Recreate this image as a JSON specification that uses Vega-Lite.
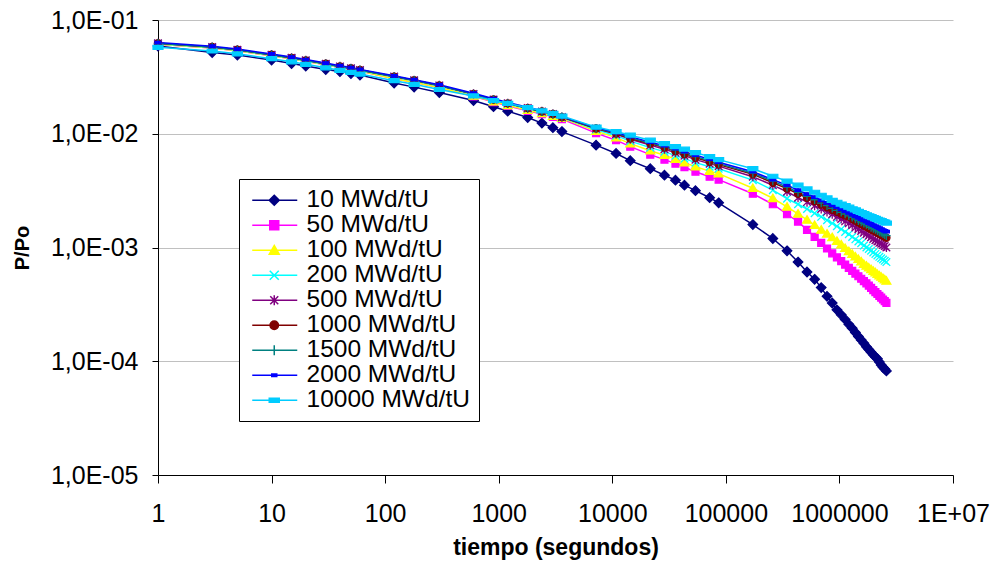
{
  "$schema": "https://vega.github.io/schema/vega-lite/v6.json",
  "width": 795,
  "height": 455,
  "autosize": {"type": "none"},
  "padding": {"left": 158, "top": 20, "right": 42, "bottom": 90},
  "background": "white",
  "config": {
    "font": "Liberation Sans",
    "view": {"stroke": null},
    "axis": {"labelColor": "#000", "titleColor": "#000", "domainColor": "#000", "tickColor": "#000", "labelFont": "Liberation Sans", "titleFont": "Liberation Sans"}
  },
  "data": {
    "values": [
      {"t": 1, "10 MWd/tU": 0.0590, "50 MWd/tU": 0.0612, "100 MWd/tU": 0.0612, "200 MWd/tU": 0.0618, "500 MWd/tU": 0.0624, "1000 MWd/tU": 0.0624, "1500 MWd/tU": 0.0624, "2000 MWd/tU": 0.0633, "10000 MWd/tU": 0.0575},
      {"t": 3, "10 MWd/tU": 0.0518, "50 MWd/tU": 0.0567, "100 MWd/tU": 0.0567, "200 MWd/tU": 0.0573, "500 MWd/tU": 0.0579, "1000 MWd/tU": 0.0579, "1500 MWd/tU": 0.0579, "2000 MWd/tU": 0.0588, "10000 MWd/tU": 0.0534},
      {"t": 5, "10 MWd/tU": 0.0492, "50 MWd/tU": 0.0536, "100 MWd/tU": 0.0536, "200 MWd/tU": 0.0542, "500 MWd/tU": 0.0547, "1000 MWd/tU": 0.0547, "1500 MWd/tU": 0.0547, "2000 MWd/tU": 0.0555, "10000 MWd/tU": 0.0504},
      {"t": 10, "10 MWd/tU": 0.0445, "50 MWd/tU": 0.0486, "100 MWd/tU": 0.0486, "200 MWd/tU": 0.0491, "500 MWd/tU": 0.0496, "1000 MWd/tU": 0.0496, "1500 MWd/tU": 0.0496, "2000 MWd/tU": 0.0503, "10000 MWd/tU": 0.0457},
      {"t": 15, "10 MWd/tU": 0.0414, "50 MWd/tU": 0.0456, "100 MWd/tU": 0.0456, "200 MWd/tU": 0.0460, "500 MWd/tU": 0.0465, "1000 MWd/tU": 0.0465, "1500 MWd/tU": 0.0465, "2000 MWd/tU": 0.0472, "10000 MWd/tU": 0.0429},
      {"t": 20, "10 MWd/tU": 0.0394, "50 MWd/tU": 0.0433, "100 MWd/tU": 0.0433, "200 MWd/tU": 0.0438, "500 MWd/tU": 0.0442, "1000 MWd/tU": 0.0442, "1500 MWd/tU": 0.0442, "2000 MWd/tU": 0.0449, "10000 MWd/tU": 0.0408},
      {"t": 30, "10 MWd/tU": 0.0367, "50 MWd/tU": 0.0404, "100 MWd/tU": 0.0404, "200 MWd/tU": 0.0408, "500 MWd/tU": 0.0412, "1000 MWd/tU": 0.0412, "1500 MWd/tU": 0.0412, "2000 MWd/tU": 0.0418, "10000 MWd/tU": 0.0380},
      {"t": 40, "10 MWd/tU": 0.0352, "50 MWd/tU": 0.0383, "100 MWd/tU": 0.0383, "200 MWd/tU": 0.0387, "500 MWd/tU": 0.0391, "1000 MWd/tU": 0.0391, "1500 MWd/tU": 0.0391, "2000 MWd/tU": 0.0397, "10000 MWd/tU": 0.0361},
      {"t": 50, "10 MWd/tU": 0.0338, "50 MWd/tU": 0.0368, "100 MWd/tU": 0.0368, "200 MWd/tU": 0.0372, "500 MWd/tU": 0.0376, "1000 MWd/tU": 0.0376, "1500 MWd/tU": 0.0376, "2000 MWd/tU": 0.0382, "10000 MWd/tU": 0.0347},
      {"t": 60, "10 MWd/tU": 0.0328, "50 MWd/tU": 0.0356, "100 MWd/tU": 0.0356, "200 MWd/tU": 0.0359, "500 MWd/tU": 0.0363, "1000 MWd/tU": 0.0363, "1500 MWd/tU": 0.0363, "2000 MWd/tU": 0.0368, "10000 MWd/tU": 0.0335},
      {"t": 120, "10 MWd/tU": 0.0279, "50 MWd/tU": 0.0305, "100 MWd/tU": 0.0305, "200 MWd/tU": 0.0315, "500 MWd/tU": 0.0318, "1000 MWd/tU": 0.0318, "1500 MWd/tU": 0.0318, "2000 MWd/tU": 0.0323, "10000 MWd/tU": 0.0293},
      {"t": 180, "10 MWd/tU": 0.0257, "50 MWd/tU": 0.0283, "100 MWd/tU": 0.0283, "200 MWd/tU": 0.0292, "500 MWd/tU": 0.0295, "1000 MWd/tU": 0.0295, "1500 MWd/tU": 0.0295, "2000 MWd/tU": 0.0299, "10000 MWd/tU": 0.0272},
      {"t": 300, "10 MWd/tU": 0.0230, "50 MWd/tU": 0.0255, "100 MWd/tU": 0.0255, "200 MWd/tU": 0.0263, "500 MWd/tU": 0.0266, "1000 MWd/tU": 0.0266, "1500 MWd/tU": 0.0266, "2000 MWd/tU": 0.0270, "10000 MWd/tU": 0.0245},
      {"t": 600, "10 MWd/tU": 0.0196, "50 MWd/tU": 0.0213, "100 MWd/tU": 0.0215, "200 MWd/tU": 0.0222, "500 MWd/tU": 0.0224, "1000 MWd/tU": 0.0224, "1500 MWd/tU": 0.0224, "2000 MWd/tU": 0.0227, "10000 MWd/tU": 0.0215},
      {"t": 900, "10 MWd/tU": 0.0173, "50 MWd/tU": 0.0190, "100 MWd/tU": 0.0192, "200 MWd/tU": 0.0198, "500 MWd/tU": 0.0200, "1000 MWd/tU": 0.0200, "1500 MWd/tU": 0.0200, "2000 MWd/tU": 0.0203, "10000 MWd/tU": 0.0196},
      {"t": 1200, "10 MWd/tU": 0.0158, "50 MWd/tU": 0.0176, "100 MWd/tU": 0.0178, "200 MWd/tU": 0.0183, "500 MWd/tU": 0.0185, "1000 MWd/tU": 0.0185, "1500 MWd/tU": 0.0185, "2000 MWd/tU": 0.0188, "10000 MWd/tU": 0.0185},
      {"t": 1800, "10 MWd/tU": 0.0139, "50 MWd/tU": 0.0159, "100 MWd/tU": 0.0161, "200 MWd/tU": 0.0166, "500 MWd/tU": 0.0168, "1000 MWd/tU": 0.0168, "1500 MWd/tU": 0.0168, "2000 MWd/tU": 0.0171, "10000 MWd/tU": 0.0170},
      {"t": 2400, "10 MWd/tU": 0.0124, "50 MWd/tU": 0.0149, "100 MWd/tU": 0.0151, "200 MWd/tU": 0.0155, "500 MWd/tU": 0.0157, "1000 MWd/tU": 0.0157, "1500 MWd/tU": 0.0157, "2000 MWd/tU": 0.0159, "10000 MWd/tU": 0.0159},
      {"t": 3000, "10 MWd/tU": 0.0113, "50 MWd/tU": 0.0141, "100 MWd/tU": 0.0143, "200 MWd/tU": 0.0148, "500 MWd/tU": 0.0149, "1000 MWd/tU": 0.0149, "1500 MWd/tU": 0.0149, "2000 MWd/tU": 0.0151, "10000 MWd/tU": 0.0151},
      {"t": 3600, "10 MWd/tU": 0.01045, "50 MWd/tU": 0.01346, "100 MWd/tU": 0.01373, "200 MWd/tU": 0.01387, "500 MWd/tU": 0.0140, "1000 MWd/tU": 0.0140, "1500 MWd/tU": 0.01415, "2000 MWd/tU": 0.01415, "10000 MWd/tU": 0.0143},
      {"t": 7200, "10 MWd/tU": 0.00794, "50 MWd/tU": 0.01013, "100 MWd/tU": 0.01055, "200 MWd/tU": 0.01088, "500 MWd/tU": 0.0111, "1000 MWd/tU": 0.01114, "1500 MWd/tU": 0.01121, "2000 MWd/tU": 0.01132, "10000 MWd/tU": 0.01144},
      {"t": 10800, "10 MWd/tU": 0.00671, "50 MWd/tU": 0.00878, "100 MWd/tU": 0.00924, "200 MWd/tU": 0.00962, "500 MWd/tU": 0.00992, "1000 MWd/tU": 0.01006, "1500 MWd/tU": 0.01013, "2000 MWd/tU": 0.01024, "10000 MWd/tU": 0.01045},
      {"t": 14400, "10 MWd/tU": 0.0058, "50 MWd/tU": 0.0077, "100 MWd/tU": 0.00818, "200 MWd/tU": 0.00861, "500 MWd/tU": 0.00896, "1000 MWd/tU": 0.00909, "1500 MWd/tU": 0.00924, "2000 MWd/tU": 0.00943, "10000 MWd/tU": 0.00972},
      {"t": 21600, "10 MWd/tU": 0.00493, "50 MWd/tU": 0.00655, "100 MWd/tU": 0.0071, "200 MWd/tU": 0.00755, "500 MWd/tU": 0.00794, "1000 MWd/tU": 0.00818, "1500 MWd/tU": 0.00827, "2000 MWd/tU": 0.00844, "10000 MWd/tU": 0.00878},
      {"t": 28800, "10 MWd/tU": 0.00432, "50 MWd/tU": 0.00592, "100 MWd/tU": 0.00648, "200 MWd/tU": 0.00696, "500 MWd/tU": 0.00732, "1000 MWd/tU": 0.00755, "1500 MWd/tU": 0.0077, "2000 MWd/tU": 0.00786, "10000 MWd/tU": 0.00818},
      {"t": 36000, "10 MWd/tU": 0.00391, "50 MWd/tU": 0.00546, "100 MWd/tU": 0.00598, "200 MWd/tU": 0.00642, "500 MWd/tU": 0.00682, "1000 MWd/tU": 0.00703, "1500 MWd/tU": 0.00717, "2000 MWd/tU": 0.00739, "10000 MWd/tU": 0.0077},
      {"t": 43200, "10 MWd/tU": 0.00353, "50 MWd/tU": 0.00508, "100 MWd/tU": 0.00557, "200 MWd/tU": 0.00604, "500 MWd/tU": 0.00642, "1000 MWd/tU": 0.00661, "1500 MWd/tU": 0.00675, "2000 MWd/tU": 0.00696, "10000 MWd/tU": 0.00732},
      {"t": 54000, "10 MWd/tU": 0.00316, "50 MWd/tU": 0.00464, "100 MWd/tU": 0.00513, "200 MWd/tU": 0.00557, "500 MWd/tU": 0.00592, "1000 MWd/tU": 0.00616, "1500 MWd/tU": 0.00629, "2000 MWd/tU": 0.00648, "10000 MWd/tU": 0.00682},
      {"t": 72000, "10 MWd/tU": 0.00274, "50 MWd/tU": 0.00419, "100 MWd/tU": 0.00469, "200 MWd/tU": 0.00513, "500 MWd/tU": 0.00546, "1000 MWd/tU": 0.00568, "1500 MWd/tU": 0.0058, "2000 MWd/tU": 0.00598, "10000 MWd/tU": 0.00629},
      {"t": 86400, "10 MWd/tU": 0.00247, "50 MWd/tU": 0.00395, "100 MWd/tU": 0.00446, "200 MWd/tU": 0.00493, "500 MWd/tU": 0.00519, "1000 MWd/tU": 0.00535, "1500 MWd/tU": 0.00546, "2000 MWd/tU": 0.00562, "10000 MWd/tU": 0.00592},
      {"t": 172800, "10 MWd/tU": 0.00159, "50 MWd/tU": 0.00297, "100 MWd/tU": 0.00332, "200 MWd/tU": 0.00391, "500 MWd/tU": 0.00419, "1000 MWd/tU": 0.00441, "1500 MWd/tU": 0.0045, "2000 MWd/tU": 0.00464, "10000 MWd/tU": 0.00493},
      {"t": 259200, "10 MWd/tU": 0.0012, "50 MWd/tU": 0.0024, "100 MWd/tU": 0.00271, "200 MWd/tU": 0.00319, "500 MWd/tU": 0.00353, "1000 MWd/tU": 0.00371, "1500 MWd/tU": 0.00383, "2000 MWd/tU": 0.00395, "10000 MWd/tU": 0.00423},
      {"t": 345600, "10 MWd/tU": 0.000935, "50 MWd/tU": 0.00196, "100 MWd/tU": 0.00228, "200 MWd/tU": 0.00269, "500 MWd/tU": 0.00309, "1000 MWd/tU": 0.00329, "1500 MWd/tU": 0.00339, "2000 MWd/tU": 0.00353, "10000 MWd/tU": 0.00383},
      {"t": 432000, "10 MWd/tU": 0.000745, "50 MWd/tU": 0.00169, "100 MWd/tU": 0.00198, "200 MWd/tU": 0.0024, "500 MWd/tU": 0.00274, "1000 MWd/tU": 0.00297, "1500 MWd/tU": 0.00306, "2000 MWd/tU": 0.00319, "10000 MWd/tU": 0.00353},
      {"t": 518400, "10 MWd/tU": 0.000609, "50 MWd/tU": 0.00143, "100 MWd/tU": 0.00175, "200 MWd/tU": 0.00218, "500 MWd/tU": 0.00251, "1000 MWd/tU": 0.00273, "1500 MWd/tU": 0.00282, "2000 MWd/tU": 0.00295, "10000 MWd/tU": 0.00327},
      {"t": 604800, "10 MWd/tU": 0.000525, "50 MWd/tU": 0.00124, "100 MWd/tU": 0.00157, "200 MWd/tU": 0.002, "500 MWd/tU": 0.00233, "1000 MWd/tU": 0.00255, "1500 MWd/tU": 0.00263, "2000 MWd/tU": 0.00277, "10000 MWd/tU": 0.00306},
      {"t": 691200, "10 MWd/tU": 0.000444, "50 MWd/tU": 0.0011, "100 MWd/tU": 0.00143, "200 MWd/tU": 0.00186, "500 MWd/tU": 0.00218, "1000 MWd/tU": 0.00239, "1500 MWd/tU": 0.00246, "2000 MWd/tU": 0.0026, "10000 MWd/tU": 0.00288},
      {"t": 777600, "10 MWd/tU": 0.000372, "50 MWd/tU": 0.00098, "100 MWd/tU": 0.00132, "200 MWd/tU": 0.00174, "500 MWd/tU": 0.00206, "1000 MWd/tU": 0.00226, "1500 MWd/tU": 0.00233, "2000 MWd/tU": 0.00247, "10000 MWd/tU": 0.00273},
      {"t": 864000, "10 MWd/tU": 0.000325, "50 MWd/tU": 0.000889, "100 MWd/tU": 0.00123, "200 MWd/tU": 0.00163, "500 MWd/tU": 0.00196, "1000 MWd/tU": 0.00215, "1500 MWd/tU": 0.00221, "2000 MWd/tU": 0.00235, "10000 MWd/tU": 0.0026},
      {"t": 950400, "10 MWd/tU": 0.000283, "50 MWd/tU": 0.000818, "100 MWd/tU": 0.00114, "200 MWd/tU": 0.00154, "500 MWd/tU": 0.00186, "1000 MWd/tU": 0.00206, "1500 MWd/tU": 0.00212, "2000 MWd/tU": 0.00226, "10000 MWd/tU": 0.0025},
      {"t": 1036800, "10 MWd/tU": 0.000256, "50 MWd/tU": 0.000759, "100 MWd/tU": 0.00106, "200 MWd/tU": 0.00145, "500 MWd/tU": 0.00178, "1000 MWd/tU": 0.00198, "1500 MWd/tU": 0.00204, "2000 MWd/tU": 0.00217, "10000 MWd/tU": 0.00241},
      {"t": 1123200, "10 MWd/tU": 0.000233, "50 MWd/tU": 0.000707, "100 MWd/tU": 0.000986, "200 MWd/tU": 0.00137, "500 MWd/tU": 0.0017, "1000 MWd/tU": 0.00191, "1500 MWd/tU": 0.00197, "2000 MWd/tU": 0.00209, "10000 MWd/tU": 0.00233},
      {"t": 1209600, "10 MWd/tU": 0.000211, "50 MWd/tU": 0.000663, "100 MWd/tU": 0.000926, "200 MWd/tU": 0.00131, "500 MWd/tU": 0.00163, "1000 MWd/tU": 0.00186, "1500 MWd/tU": 0.0019, "2000 MWd/tU": 0.00202, "10000 MWd/tU": 0.00226},
      {"t": 1296000, "10 MWd/tU": 0.000195, "50 MWd/tU": 0.000624, "100 MWd/tU": 0.000875, "200 MWd/tU": 0.00124, "500 MWd/tU": 0.00157, "1000 MWd/tU": 0.00178, "1500 MWd/tU": 0.00184, "2000 MWd/tU": 0.00195, "10000 MWd/tU": 0.00219},
      {"t": 1382400, "10 MWd/tU": 0.000179, "50 MWd/tU": 0.000589, "100 MWd/tU": 0.00083, "200 MWd/tU": 0.00118, "500 MWd/tU": 0.0015, "1000 MWd/tU": 0.00172, "1500 MWd/tU": 0.00178, "2000 MWd/tU": 0.00189, "10000 MWd/tU": 0.00214},
      {"t": 1468800, "10 MWd/tU": 0.000165, "50 MWd/tU": 0.000559, "100 MWd/tU": 0.000789, "200 MWd/tU": 0.00113, "500 MWd/tU": 0.00145, "1000 MWd/tU": 0.00166, "1500 MWd/tU": 0.00172, "2000 MWd/tU": 0.00183, "10000 MWd/tU": 0.00208},
      {"t": 1555200, "10 MWd/tU": 0.000154, "50 MWd/tU": 0.000531, "100 MWd/tU": 0.000753, "200 MWd/tU": 0.00109, "500 MWd/tU": 0.0014, "1000 MWd/tU": 0.00161, "1500 MWd/tU": 0.00167, "2000 MWd/tU": 0.00178, "10000 MWd/tU": 0.00203},
      {"t": 1641600, "10 MWd/tU": 0.000144, "50 MWd/tU": 0.000506, "100 MWd/tU": 0.000713, "200 MWd/tU": 0.00104, "500 MWd/tU": 0.00135, "1000 MWd/tU": 0.00156, "1500 MWd/tU": 0.00163, "2000 MWd/tU": 0.00173, "10000 MWd/tU": 0.00199},
      {"t": 1728000, "10 MWd/tU": 0.000134, "50 MWd/tU": 0.000484, "100 MWd/tU": 0.00069, "200 MWd/tU": 0.001, "500 MWd/tU": 0.00131, "1000 MWd/tU": 0.00152, "1500 MWd/tU": 0.00159, "2000 MWd/tU": 0.00169, "10000 MWd/tU": 0.00194},
      {"t": 1814400, "10 MWd/tU": 0.000127, "50 MWd/tU": 0.000462, "100 MWd/tU": 0.000665, "200 MWd/tU": 0.00097, "500 MWd/tU": 0.00127, "1000 MWd/tU": 0.00148, "1500 MWd/tU": 0.00155, "2000 MWd/tU": 0.00164, "10000 MWd/tU": 0.0019},
      {"t": 1900800, "10 MWd/tU": 0.00012, "50 MWd/tU": 0.000442, "100 MWd/tU": 0.000643, "200 MWd/tU": 0.000937, "500 MWd/tU": 0.00123, "1000 MWd/tU": 0.00144, "1500 MWd/tU": 0.0015, "2000 MWd/tU": 0.00161, "10000 MWd/tU": 0.00187},
      {"t": 1987200, "10 MWd/tU": 0.000114, "50 MWd/tU": 0.000422, "100 MWd/tU": 0.000621, "200 MWd/tU": 0.000906, "500 MWd/tU": 0.00119, "1000 MWd/tU": 0.00141, "1500 MWd/tU": 0.00147, "2000 MWd/tU": 0.00157, "10000 MWd/tU": 0.00183},
      {"t": 2073600, "10 MWd/tU": 0.000109, "50 MWd/tU": 0.000405, "100 MWd/tU": 0.000603, "200 MWd/tU": 0.000878, "500 MWd/tU": 0.00116, "1000 MWd/tU": 0.00138, "1500 MWd/tU": 0.00144, "2000 MWd/tU": 0.00154, "10000 MWd/tU": 0.0018},
      {"t": 2160000, "10 MWd/tU": 0.000105, "50 MWd/tU": 0.00039, "100 MWd/tU": 0.000583, "200 MWd/tU": 0.000852, "500 MWd/tU": 0.00113, "1000 MWd/tU": 0.00135, "1500 MWd/tU": 0.0014, "2000 MWd/tU": 0.00151, "10000 MWd/tU": 0.00177},
      {"t": 2246400, "10 MWd/tU": 0.0000986, "50 MWd/tU": 0.000375, "100 MWd/tU": 0.000567, "200 MWd/tU": 0.000828, "500 MWd/tU": 0.0011, "1000 MWd/tU": 0.00132, "1500 MWd/tU": 0.00137, "2000 MWd/tU": 0.00148, "10000 MWd/tU": 0.00174},
      {"t": 2332800, "10 MWd/tU": 0.0000928, "50 MWd/tU": 0.000362, "100 MWd/tU": 0.000551, "200 MWd/tU": 0.000805, "500 MWd/tU": 0.00108, "1000 MWd/tU": 0.00129, "1500 MWd/tU": 0.00135, "2000 MWd/tU": 0.00145, "10000 MWd/tU": 0.00172},
      {"t": 2419200, "10 MWd/tU": 0.0000886, "50 MWd/tU": 0.000349, "100 MWd/tU": 0.000536, "200 MWd/tU": 0.000784, "500 MWd/tU": 0.00105, "1000 MWd/tU": 0.00127, "1500 MWd/tU": 0.00132, "2000 MWd/tU": 0.00142, "10000 MWd/tU": 0.00169},
      {"t": 2505600, "10 MWd/tU": 0.0000856, "50 MWd/tU": 0.000338, "100 MWd/tU": 0.000523, "200 MWd/tU": 0.000764, "500 MWd/tU": 0.00103, "1000 MWd/tU": 0.00124, "1500 MWd/tU": 0.00129, "2000 MWd/tU": 0.0014, "10000 MWd/tU": 0.00167},
      {"t": 2592000, "10 MWd/tU": 0.0000822, "50 MWd/tU": 0.000326, "100 MWd/tU": 0.000509, "200 MWd/tU": 0.000745, "500 MWd/tU": 0.001, "1000 MWd/tU": 0.00122, "1500 MWd/tU": 0.00127, "2000 MWd/tU": 0.00138, "10000 MWd/tU": 0.00164}
    ]
  },
  "transform": [
    {"fold": ["10 MWd/tU", "50 MWd/tU", "100 MWd/tU", "200 MWd/tU", "500 MWd/tU", "1000 MWd/tU", "1500 MWd/tU", "2000 MWd/tU", "10000 MWd/tU"], "as": ["serie", "P"]}
  ],
  "encoding": {
    "x": {
      "field": "t", "type": "quantitative",
      "scale": {"type": "log", "domain": [1, 10000000], "nice": false},
      "axis": {
        "title": "tiempo (segundos)",
        "values": [1, 10, 100, 1000, 10000, 100000, 1000000, 10000000],
        "labelExpr": "datum.value >= 10000000 ? '1E+07' : format(datum.value, 'd')",
        "grid": false, "tickSize": 8, "labelPadding": 18, "labelFontSize": 25,
        "labelFlush": false, "labelOverlap": false,
        "titleFontSize": 23, "titleFontWeight": "bold", "titlePadding": 10,
        "domainWidth": 1, "tickWidth": 1
      }
    },
    "y": {
      "field": "P", "type": "quantitative",
      "scale": {"type": "log", "domain": [0.00001, 0.1], "nice": false},
      "axis": {
        "title": "P/Po",
        "values": [0.00001, 0.0001, 0.001, 0.01, 0.1],
        "labelExpr": "'1,0E-0' + round(-log(datum.value) / LN10)",
        "grid": true, "gridColor": "#c0c0c0", "gridWidth": 1,
        "tickSize": 6, "labelPadding": 14, "labelFontSize": 25,
        "labelFlush": false, "labelOverlap": false,
        "titleFontSize": 20, "titleFontWeight": "bold", "titlePadding": 18,
        "domainWidth": 1, "tickWidth": 1
      }
    }
  },
  "layer": [
    {
      "mark": {"type": "line", "strokeWidth": 1.5},
      "encoding": {
        "color": {
          "field": "serie", "type": "nominal",
          "scale": {
            "domain": ["10 MWd/tU", "50 MWd/tU", "100 MWd/tU", "200 MWd/tU", "500 MWd/tU", "1000 MWd/tU", "1500 MWd/tU", "2000 MWd/tU", "10000 MWd/tU"],
            "range": ["#000080", "#FF00FF", "#FFFF00", "#00FFFF", "#800080", "#800000", "#008080", "#0000FF", "#00CCFF"]
          },
          "legend": {
            "title": null, "orient": "none", "legendX": 81, "legendY": 159,
            "strokeColor": "#000", "fillColor": "white", "padding": 9,
            "labelFontSize": 24.5, "labelFont": "Liberation Sans", "labelColor": "#000", "labelLimit": 400,
            "labelOffset": 34, "symbolSize": 400, "symbolStrokeWidth": 1.5, "rowPadding": 0
          }
        }
      }
    },
    {"transform": [{"filter": "datum.serie === '10 MWd/tU'"}], "mark": {"type": "point", "filled": true, "size": 400, "shape": "M0,-0.48L0.48,0L0,0.48L-0.48,0Z", "color": "#000080", "stroke": "#000080", "strokeWidth": 1.2, "opacity": 1}},
    {"transform": [{"filter": "datum.serie === '50 MWd/tU'"}], "mark": {"type": "point", "filled": true, "size": 400, "shape": "M-0.35,-0.35H0.35V0.35H-0.35Z", "color": "#FF00FF", "stroke": "#FF00FF", "strokeWidth": 1.2, "opacity": 1}},
    {"transform": [{"filter": "datum.serie === '100 MWd/tU'"}], "mark": {"type": "point", "filled": true, "size": 400, "shape": "M0,-0.42L0.45,0.33H-0.45Z", "color": "#FFFF00", "stroke": "#FFFF00", "strokeWidth": 1.2, "opacity": 1}},
    {"transform": [{"filter": "datum.serie === '200 MWd/tU'"}], "mark": {"type": "point", "filled": true, "size": 400, "shape": "M-0.38,-0.38L0.38,0.38M0.38,-0.38L-0.38,0.38", "color": "#00FFFF", "stroke": "#00FFFF", "strokeWidth": 1.3, "opacity": 1}},
    {"transform": [{"filter": "datum.serie === '500 MWd/tU'"}], "mark": {"type": "point", "filled": true, "size": 400, "shape": "M-0.38,-0.38L0.38,0.38M0.38,-0.38L-0.38,0.38M0,-0.46V0.46", "color": "#800080", "stroke": "#800080", "strokeWidth": 1.3, "opacity": 1}},
    {"transform": [{"filter": "datum.serie === '1000 MWd/tU'"}], "mark": {"type": "point", "filled": true, "size": 400, "shape": "M0.36,0A0.36,0.36 0 1,1 -0.36,0A0.36,0.36 0 1,1 0.36,0Z", "color": "#800000", "stroke": "#800000", "strokeWidth": 1.2, "opacity": 1}},
    {"transform": [{"filter": "datum.serie === '1500 MWd/tU'"}], "mark": {"type": "point", "filled": true, "size": 400, "shape": "M-0.42,0H0.42M0,-0.42V0.42", "color": "#008080", "stroke": "#008080", "strokeWidth": 1.3, "opacity": 1}},
    {"transform": [{"filter": "datum.serie === '2000 MWd/tU'"}], "mark": {"type": "point", "filled": true, "size": 400, "shape": "M-0.3,-0.13H0.3V0.13H-0.3Z", "color": "#0000FF", "stroke": "#0000FF", "strokeWidth": 1.2, "opacity": 1}},
    {"transform": [{"filter": "datum.serie === '10000 MWd/tU'"}], "mark": {"type": "point", "filled": true, "size": 400, "shape": "M-0.5,-0.2H0.5V0.2H-0.5Z", "color": "#00CCFF", "stroke": "#00CCFF", "strokeWidth": 1.2, "opacity": 1}},
    {
      "transform": [{"filter": "datum.t < 0"}],
      "mark": {"type": "point", "filled": true, "size": 400, "strokeWidth": 1.5, "opacity": 1},
      "encoding": {
        "color": {
          "field": "serie", "type": "nominal",
          "scale": {
            "domain": ["10 MWd/tU", "50 MWd/tU", "100 MWd/tU", "200 MWd/tU", "500 MWd/tU", "1000 MWd/tU", "1500 MWd/tU", "2000 MWd/tU", "10000 MWd/tU"],
            "range": ["#000080", "#FF00FF", "#FFFF00", "#00FFFF", "#800080", "#800000", "#008080", "#0000FF", "#00CCFF"]
          },
          "legend": null
        },
        "stroke": {
          "field": "serie", "type": "nominal",
          "scale": {
            "domain": ["10 MWd/tU", "50 MWd/tU", "100 MWd/tU", "200 MWd/tU", "500 MWd/tU", "1000 MWd/tU", "1500 MWd/tU", "2000 MWd/tU", "10000 MWd/tU"],
            "range": ["#000080", "#FF00FF", "#FFFF00", "#00FFFF", "#800080", "#800000", "#008080", "#0000FF", "#00CCFF"]
          },
          "legend": null
        },
        "shape": {
          "field": "serie", "type": "nominal",
          "scale": {
            "domain": ["10 MWd/tU", "50 MWd/tU", "100 MWd/tU", "200 MWd/tU", "500 MWd/tU", "1000 MWd/tU", "1500 MWd/tU", "2000 MWd/tU", "10000 MWd/tU"],
            "range": [
              "M-0.8,0H3.7M1.4,-0.5L1.9,0L1.4,0.5L0.9,0Z",
              "M-0.8,0H3.7M0.95,-0.45H1.85V0.45H0.95Z",
              "M-0.8,0H3.7M1.4,-0.48L1.9,0.4H0.9Z",
              "M-0.8,0H3.7M0.95,-0.45L1.85,0.45M1.85,-0.45L0.95,0.45",
              "M-0.8,0H3.7M1.0,-0.4L1.8,0.4M1.8,-0.4L1.0,0.4M1.4,-0.5V0.5",
              "M-0.8,0H3.7M1.82,0A0.42,0.42 0 1,1 0.98,0A0.42,0.42 0 1,1 1.82,0Z",
              "M-0.8,0H3.7M1.4,-0.5V0.5",
              "M-0.8,0H3.7M1.15,-0.13H1.65V0.13H1.15Z",
              "M-0.8,0H3.7M0.9,-0.2H1.9V0.2H0.9Z"
            ]
          },
          "legend": null
        }
      }
    }
  ]
}
